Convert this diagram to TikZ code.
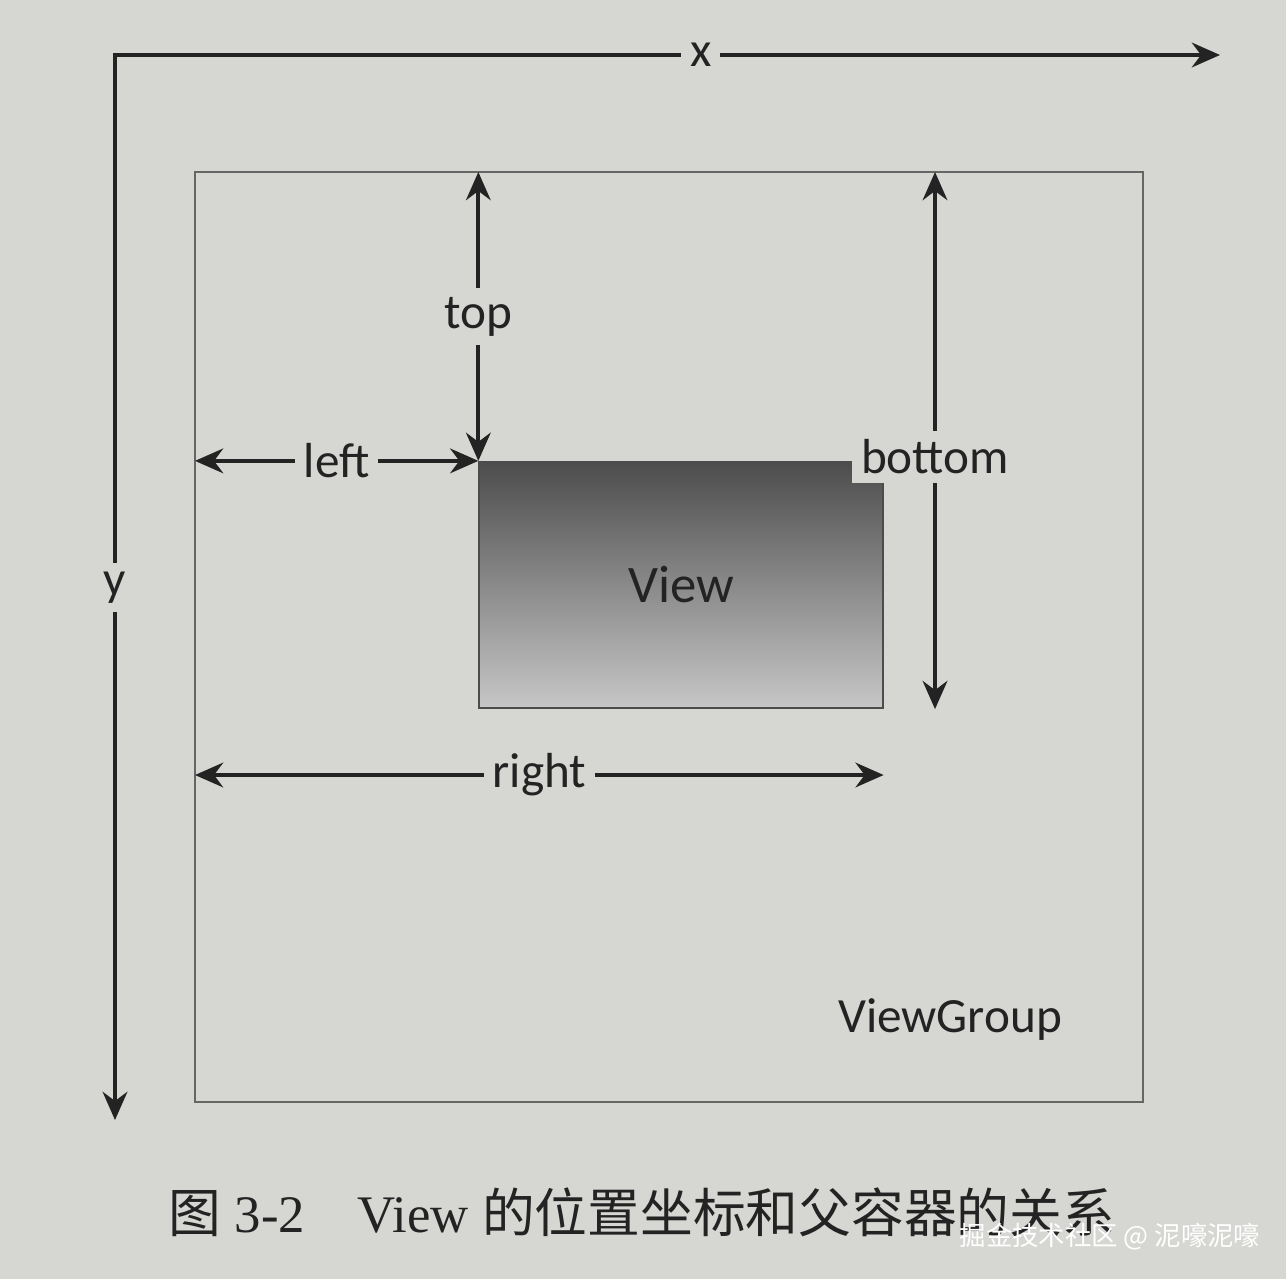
\documentclass[tikz,border=0pt]{standalone}
\usepackage{fontspec}
\setmainfont{Carlito}
\newfontfamily\capfont{Liberation Serif}
\newfontfamily\cjk{Noto Sans CJK SC}
\usetikzlibrary{arrows.meta}

\definecolor{paper}{RGB}{214,214,211}
\definecolor{ink}{RGB}{35,35,35}

\tikzset{
  axisline/.style={ink, line width=1.3pt, {Stealth[length=8pt,width=7pt]}-{Stealth[length=8pt,width=7pt]}},
  dim/.style={ink, line width=1.2pt, {Stealth[length=8pt,width=7pt]}-{Stealth[length=8pt,width=7pt]}},
  lbl/.style={fill=paper, text=ink, font=\fontsize{14}{16}\selectfont, inner sep=2.5pt},
  viewbox/.style={draw=black!70, line width=0.6pt, top color=black!70, bottom color=black!22,
    minimum width=4.03cm, minimum height=2.46cm, text=ink, font=\fontsize{15}{17}\selectfont},
}

\begin{document}
\begin{tikzpicture}[x=0.01cm, y=-0.01cm]
  \fill[paper] (0,0) rectangle (1286,1279);
  \useasboundingbox (0,0) rectangle (1286,1279);

  % axes
  \coordinate (O) at (115,55);
  \coordinate (xend) at (1220,55);
  \coordinate (yend) at (115,1120);
  \draw[axisline] (xend) -- node[lbl, pos=0.47]{x} (O) -- node[lbl]{y} (yend);

  % parent container
  \coordinate (vgtl) at (195,172);
  \coordinate (vgbr) at (1143,1102);
  \draw[black!60, line width=0.6pt] (vgtl) rectangle (vgbr);
  \node[text=ink, font=\fontsize{14}{16}\selectfont] (vglabel) at (950,1020) {ViewGroup};

  % the view
  \node[viewbox] (view) at (681,585) {View};

  \coordinate (bx) at (935,0);
  \coordinate (ry) at (0,775);
  \draw[dim] (view.north west |- vgtl) -- node[lbl]{top} (view.north west);
  \draw[dim] (vgtl |- view.north west) -- node[lbl]{left} (view.north west);
  \draw[dim] (bx |- vgtl) -- node[lbl, pos=0.53]{bottom} (bx |- view.south);
  \draw[dim] (vgtl |- ry) -- node[lbl]{right} (view.east |- ry);

  % caption
  \node[text=ink, font=\capfont\fontsize{15}{18}\selectfont] (caption) at (642,1212)
    {{\cjk 图} 3-2\quad View {\cjk 的位置坐标和父容器的关系}};
  \node[text=white, font=\cjk\fontsize{7.5}{9}\selectfont] (mark) at (1110,1236)
    {掘金技术社区 @ 泥嚎泥嚎};
\end{tikzpicture}
\end{document}
